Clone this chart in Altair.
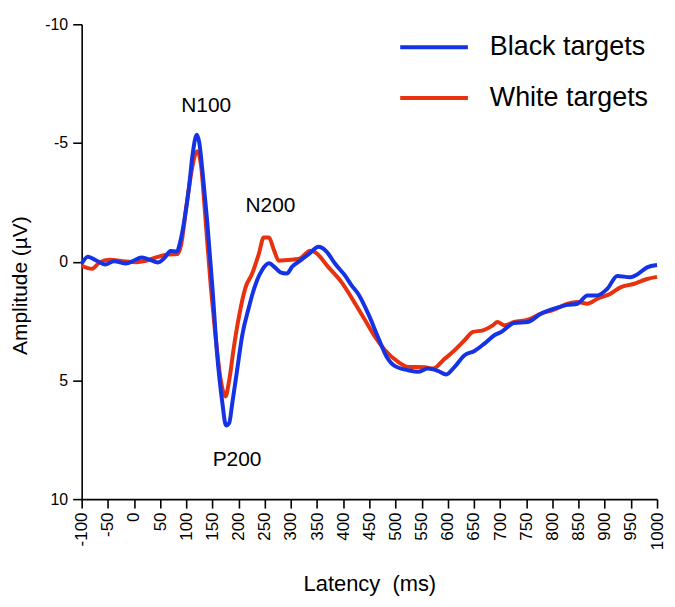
import altair as alt
import pandas as pd

# ---- data ----
black_ms = [-100, -88, -72, -55, -38, -15, 0, 14, 28, 46,
            58, 70, 82, 88, 96, 105, 112, 120, 125, 131,
            140, 150, 159, 169, 176, 182, 188, 197, 207, 220,
            226, 235, 245, 258, 270, 280, 292, 303, 315, 334,
            353, 362, 369, 385, 404, 416, 430, 448, 467, 483,
            499, 524, 543, 562, 581, 597, 613, 632, 651, 670,
            689, 702, 727, 753, 778, 803, 829, 848, 867, 886,
            905, 924, 949, 962, 981, 1000]
black_uv = [0.08, -0.21, -0.05, 0.12, -0.02, 0.08, -0.05, -0.18, -0.1, 0.03,
            -0.15, -0.45, -0.43, -0.8, -1.7, -3.1, -4.5, -5.35, -5.0, -3.8,
            -1.7, 1.1, 3.9, 5.95, 6.9, 6.8, 5.95, 4.6, 3.1, 1.9,
            1.4, 0.8, 0.35, 0.07, 0.25, 0.45, 0.5, 0.2, 0.0, -0.32,
            -0.63, -0.55, -0.4, 0.1, 0.6, 1.0, 1.4, 2.2, 3.2, 4.0,
            4.4, 4.57, 4.64, 4.5, 4.6, 4.75, 4.43, 3.94, 3.76, 3.45,
            3.1, 2.96, 2.58, 2.54, 2.19, 1.98, 1.82, 1.77, 1.42, 1.42,
            1.14, 0.6, 0.66, 0.54, 0.24, 0.14]

white_ms = [-100, -80, -66, -47, -21, 4, 23, 45, 65, 83,
            90, 100, 110, 116, 121, 128, 137, 147, 156, 166,
            175, 182, 191, 200, 213, 226, 239, 248, 258, 267,
            277, 293, 315, 337, 347, 372, 397, 423, 442, 461,
            480, 505, 524, 556, 572, 591, 613, 632, 648, 667,
            686, 695, 708, 727, 753, 778, 803, 829, 848, 867,
            886, 911, 930, 955, 981, 1000]
white_uv = [0.17, 0.3, 0.03, -0.08, -0.02, 0.02, -0.04, -0.2, -0.3, -0.32,
            -0.7, -2.3, -3.8, -4.45, -4.65, -4.1, -1.72, 1.08, 3.17, 5.0,
            5.68, 5.0, 3.59, 2.4, 1.1, 0.5, -0.35, -1.02, -1.02, -0.53,
            -0.04, -0.07, -0.11, -0.46, -0.39, 0.24, 0.87, 1.77, 2.47, 3.17,
            3.73, 4.22, 4.43, 4.45, 4.5, 4.15, 3.73, 3.31, 2.96, 2.89,
            2.68, 2.54, 2.68, 2.54, 2.44, 2.19, 2.02, 1.77, 1.7, 1.77,
            1.56, 1.35, 1.08, 0.94, 0.73, 0.64]

series_names = ["Black targets", "White targets"]
series_colors = ["#1433e4", "#e8320f"]

ann_text = ["N100", "N200", "P200"]
ann_ms = [138, 261, 197]
ann_uv = [-6.55, -2.35, 8.35]

x_ticks = list(range(-100, 1001, 50))
y_ticks = [-10, -5, 0, 5, 10]

FONT = "Liberation Sans"

df_black = pd.DataFrame({"ms": black_ms, "uv": black_uv, "series": series_names[0]})
df_white = pd.DataFrame({"ms": white_ms, "uv": white_uv, "series": series_names[1]})
df_ann = pd.DataFrame({"ms": ann_ms, "uv": ann_uv, "text": ann_text})

x_axis = alt.Axis(
    title="Latency\u00a0\u00a0(ms)",
    values=x_ticks,
    labelAngle=270,
    labelExpr="'' + datum.value",
    labelOverlap=False,
    labelFont=FONT,
    labelFontSize=17,
    tickSize=9,
    labelPadding=4,
    titleFontSize=22,
    titleBaseline="alphabetic",
    titleY=92,
)
y_axis = alt.Axis(
    title="Amplitude (\u00b5V)",
    values=y_ticks,
    labelExpr="'' + datum.value",
    labelOverlap=False,
    labelFont=FONT,
    labelFontSize=16,
    tickSize=9,
    labelPadding=5,
    titleFontSize=21,
    titleAngle=270,
    titleBaseline="alphabetic",
    titleAlign="center",
    titleX=-55,
    titleY=262,
)
x_scale = alt.Scale(domain=[-100, 1000], nice=False, zero=False)
y_scale = alt.Scale(domain=[-10, 10], reverse=True, nice=False, zero=False)

x_enc = alt.X("ms:Q", scale=x_scale, axis=x_axis)
y_enc = alt.Y("uv:Q", scale=y_scale, axis=y_axis)

color_enc = alt.Color(
    "series:N",
    scale=alt.Scale(domain=series_names, range=series_colors),
    legend=alt.Legend(
        title=None,
        orient="none",
        legendX=318,
        legendY=8,
        symbolType="stroke",
        symbolSize=4624,
        symbolStrokeWidth=4,
        labelFont=FONT,
        labelFontSize=27,
        labelColor="black",
        labelOffset=20,
        labelLimit=400,
        rowPadding=21,
        clipHeight=30,
        padding=0,
    ),
)

white_line = alt.Chart(df_white).mark_line(strokeWidth=4, interpolate="monotone").encode(
    x=x_enc, y=y_enc, color=color_enc
)
black_line = alt.Chart(df_black).mark_line(strokeWidth=4, interpolate="monotone").encode(
    x=x_enc, y=y_enc, color=color_enc
)
ann = alt.Chart(df_ann).mark_text(
    font=FONT, fontSize=21, color="black", align="center", baseline="middle"
).encode(x=x_enc, y=y_enc, text="text:N")

chart = (
    alt.layer(white_line, black_line, ann)
    .properties(
        width=578,
        height=477,
        autosize=alt.AutoSizeParams(type="none"),
        padding={"left": 74, "top": 15, "right": 10, "bottom": 100},
        background="white",
    )
    .configure_view(strokeWidth=0)
    .configure_axis(
        grid=False,
        domainColor="black",
        domainWidth=1.6,
        tickColor="black",
        tickWidth=1.6,
        labelColor="black",
        labelFont=FONT,
        titleColor="black",
        titleFont=FONT,
        titleFontWeight="normal",
    )
)

chart.save("out.html", embed_options={"renderer": "svg", "actions": False})
